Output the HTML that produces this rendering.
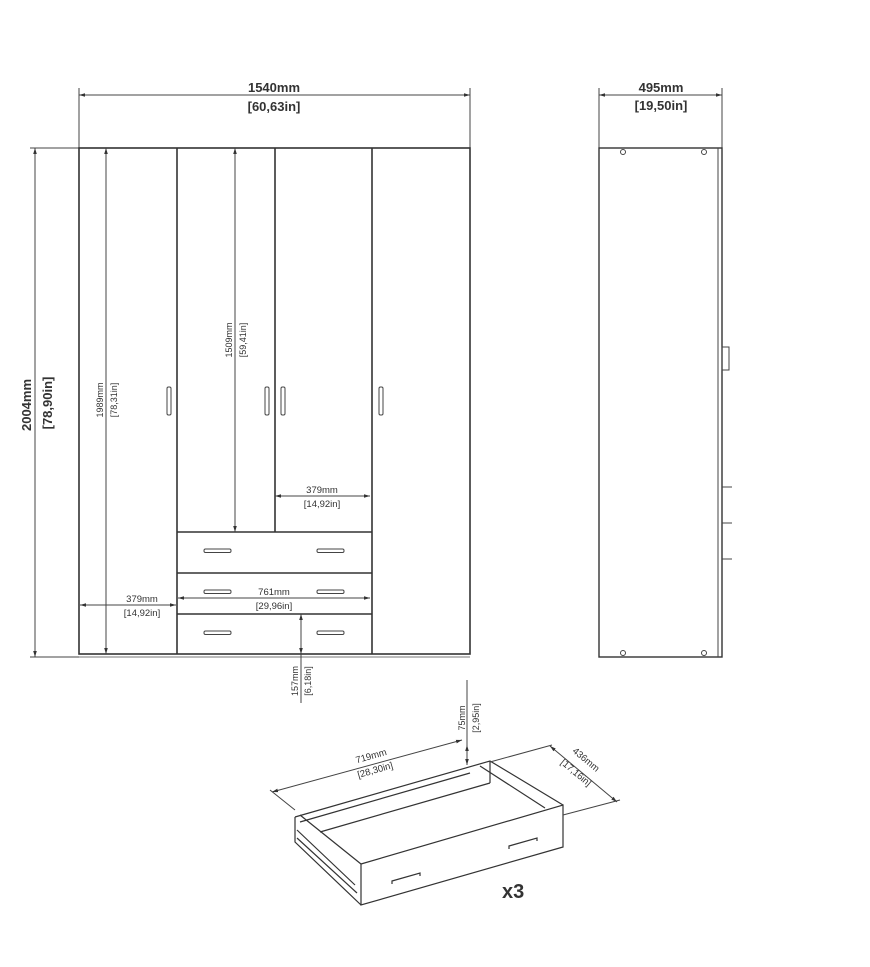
<!DOCTYPE html>
<html><head><meta charset="utf-8"><style>
html,body{margin:0;padding:0;background:#fff;}
svg{display:block;}
text{font-family:"Liberation Sans",sans-serif;fill:#333;}
.b{font-weight:bold;}
</style></head><body>
<svg width="870" height="967" viewBox="0 0 870 967" xmlns="http://www.w3.org/2000/svg">
<defs>
<marker id="a" viewBox="0 0 10 10" refX="10" refY="5" markerWidth="6" markerHeight="6" orient="auto-start-reverse"><path d="M0,2 L10,5 L0,8 z" fill="#333"/></marker>
</defs>
<g stroke="#444" fill="none" stroke-width="1">
<line x1="79" y1="95" x2="470" y2="95" marker-start="url(#a)" marker-end="url(#a)"/>
<line x1="79" y1="88" x2="79" y2="148"/>
<line x1="470" y1="88" x2="470" y2="148"/>
<line x1="30" y1="148" x2="79" y2="148"/>
<line x1="30" y1="657" x2="79" y2="657"/>
<line x1="35" y1="148" x2="35" y2="657" marker-start="url(#a)" marker-end="url(#a)"/>
<g stroke="#333" stroke-width="1.6">
<rect x="79" y="148" width="391" height="506"/>
<line x1="177" y1="148" x2="177" y2="654"/>
<line x1="275" y1="148" x2="275" y2="532"/>
<line x1="372" y1="148" x2="372" y2="654"/>
<line x1="177" y1="532" x2="372" y2="532"/>
<line x1="177" y1="573" x2="372" y2="573"/>
<line x1="177" y1="614" x2="372" y2="614"/>
</g>
<line x1="79" y1="657" x2="470" y2="657" stroke="#777"/>
<rect x="167" y="387" width="4" height="28" rx="1.5"/>
<rect x="265" y="387" width="4" height="28" rx="1.5"/>
<rect x="281" y="387" width="4" height="28" rx="1.5"/>
<rect x="379" y="387" width="4" height="28" rx="1.5"/>
<rect x="204" y="549" width="27" height="3.5" rx="1.5"/>
<rect x="317" y="549" width="27" height="3.5" rx="1.5"/>
<rect x="204" y="590" width="27" height="3.5" rx="1.5"/>
<rect x="317" y="590" width="27" height="3.5" rx="1.5"/>
<rect x="204" y="631" width="27" height="3.5" rx="1.5"/>
<rect x="317" y="631" width="27" height="3.5" rx="1.5"/>
<line x1="106" y1="148" x2="106" y2="654" marker-start="url(#a)" marker-end="url(#a)"/>
<line x1="235" y1="148" x2="235" y2="532" marker-start="url(#a)" marker-end="url(#a)"/>
<line x1="275" y1="496" x2="370" y2="496" marker-start="url(#a)" marker-end="url(#a)"/>
<line x1="80" y1="605" x2="176" y2="605" marker-start="url(#a)" marker-end="url(#a)"/>
<line x1="178" y1="598" x2="370" y2="598" marker-start="url(#a)" marker-end="url(#a)"/>
<line x1="301" y1="614" x2="301" y2="654" marker-start="url(#a)" marker-end="url(#a)"/>
<line x1="301" y1="654" x2="301" y2="703"/>
<line x1="599" y1="95" x2="722" y2="95" marker-start="url(#a)" marker-end="url(#a)"/>
<line x1="599" y1="88" x2="599" y2="148"/>
<line x1="722" y1="88" x2="722" y2="148"/>
<rect x="599" y="148" width="123" height="509" stroke="#333" stroke-width="1.4"/>
<line x1="718" y1="148" x2="718" y2="657"/>
<circle cx="623" cy="152" r="2.5"/><circle cx="704" cy="152" r="2.5"/>
<circle cx="623" cy="653" r="2.5"/><circle cx="704" cy="653" r="2.5"/>
<rect x="722" y="347" width="7" height="23"/>
<line x1="722" y1="487" x2="732" y2="487"/>
<line x1="722" y1="523" x2="732" y2="523"/>
<line x1="722" y1="559" x2="732" y2="559"/>
<g stroke="#333" stroke-width="1.2">
<polygon points="361,864 563,805 563,847 361,905" fill="#fff"/>
<polyline points="295,817 490,761 563,805"/>
<polyline points="295,817 295,842 361,905"/>
<polyline points="300,815 361,864"/>
<line x1="320" y1="832" x2="490" y2="783"/>
<line x1="490" y1="761" x2="490" y2="783"/>
<line x1="480" y1="766" x2="545" y2="808"/>
<line x1="300" y1="822" x2="470" y2="773"/>
<line x1="297" y1="830" x2="355" y2="885"/>
<line x1="297" y1="838" x2="357" y2="893"/>
<path d="M392,884 l0,-3 l28,-8 l0,3"/>
<path d="M509,849 l0,-3 l28,-8 l0,3"/>
</g>
<line x1="272" y1="792" x2="462" y2="740" marker-start="url(#a)" marker-end="url(#a)"/>
<line x1="295" y1="810" x2="270" y2="790"/>
<line x1="467" y1="680" x2="467" y2="765"/>
<line x1="467" y1="745" x2="467" y2="765" marker-start="url(#a)" marker-end="url(#a)"/>
<line x1="490" y1="762" x2="552" y2="745"/>
<line x1="563" y1="815" x2="620" y2="800"/>
<line x1="550" y1="746" x2="617" y2="802" marker-start="url(#a)" marker-end="url(#a)"/>
</g>
<text x="274" y="92" font-size="13" class="b" text-anchor="middle">1540mm</text>
<text x="274" y="111" font-size="13" class="b" text-anchor="middle">[60,63in]</text>
<text x="661" y="92" font-size="13" class="b" text-anchor="middle">495mm</text>
<text x="661" y="110" font-size="13" class="b" text-anchor="middle">[19,50in]</text>
<text transform="translate(31,405) rotate(-90)" font-size="13" class="b" text-anchor="middle">2004mm</text>
<text transform="translate(52,403) rotate(-90)" font-size="13" class="b" text-anchor="middle">[78,90in]</text>
<text transform="translate(103,400) rotate(-90)" font-size="9" text-anchor="middle">1989mm</text>
<text transform="translate(117,400) rotate(-90)" font-size="9" text-anchor="middle">[78,31in]</text>
<text transform="translate(232,340) rotate(-90)" font-size="9" text-anchor="middle">1509mm</text>
<text transform="translate(246,340) rotate(-90)" font-size="9" text-anchor="middle">[59,41in]</text>
<text x="322" y="493" font-size="9.5" text-anchor="middle">379mm</text>
<text x="322" y="507" font-size="9.5" text-anchor="middle">[14,92in]</text>
<text x="142" y="602" font-size="9.5" text-anchor="middle">379mm</text>
<text x="142" y="616" font-size="9.5" text-anchor="middle">[14,92in]</text>
<text x="274" y="595" font-size="9.5" text-anchor="middle">761mm</text>
<text x="274" y="609" font-size="9.5" text-anchor="middle">[29,96in]</text>
<text transform="translate(298,681) rotate(-90)" font-size="9" text-anchor="middle">157mm</text>
<text transform="translate(311,681) rotate(-90)" font-size="9" text-anchor="middle">[6,18in]</text>
<text transform="translate(465,718) rotate(-90)" font-size="9" text-anchor="middle">75mm</text>
<text transform="translate(479,718) rotate(-90)" font-size="9" text-anchor="middle">[2,95in]</text>
<text transform="translate(372,759) rotate(-16)" font-size="9.5" text-anchor="middle">719mm</text>
<text transform="translate(376,773) rotate(-16)" font-size="9.5" text-anchor="middle">[28,30in]</text>
<text transform="translate(584,762) rotate(40)" font-size="9.5" text-anchor="middle">436mm</text>
<text transform="translate(574,775) rotate(40)" font-size="9.5" text-anchor="middle">[17,16in]</text>
<text x="502" y="898" font-size="20" class="b">x3</text>
</svg>
</body></html>
